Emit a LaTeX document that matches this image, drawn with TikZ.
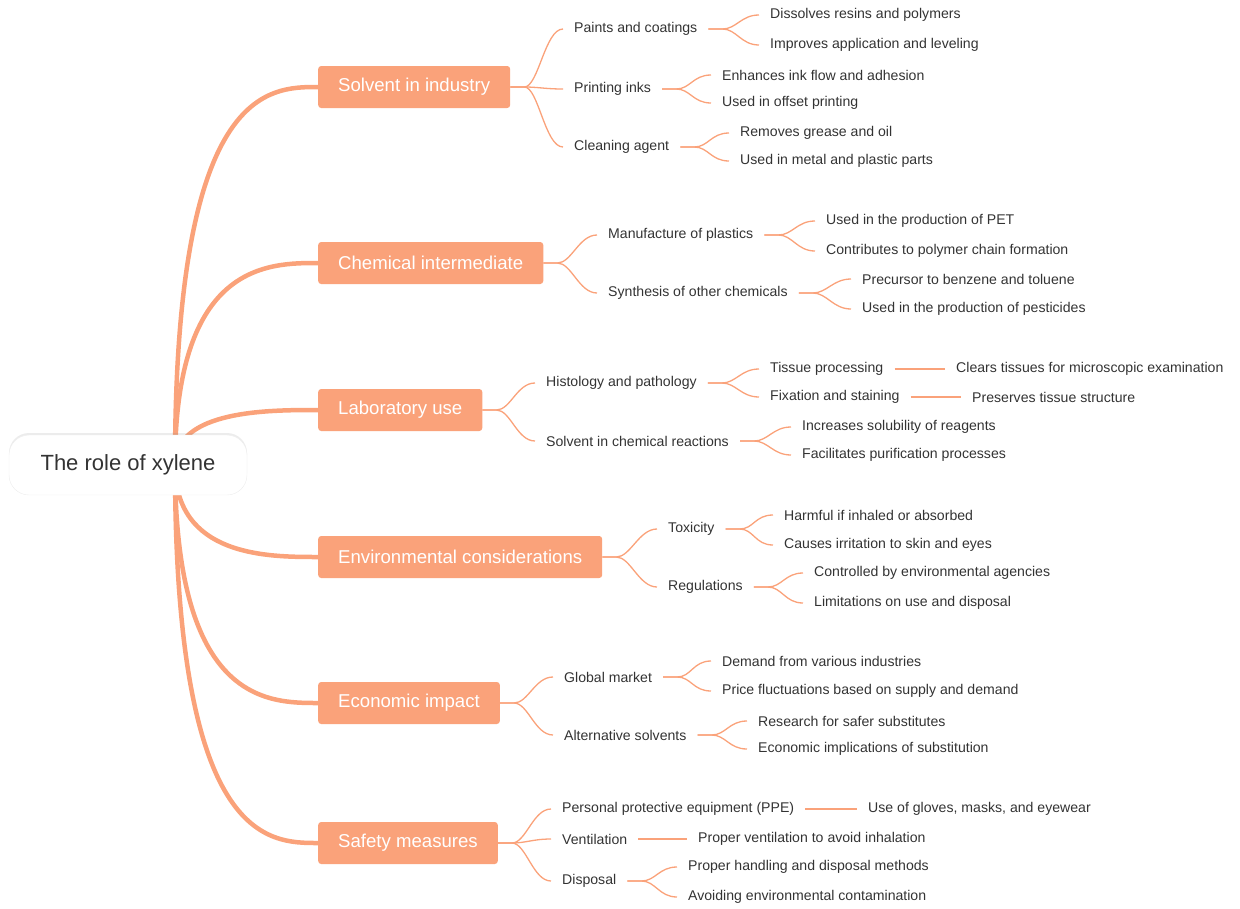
\documentclass[tikz,border=0pt]{standalone}
\usepackage{fontspec}
\setmainfont{Liberation Sans}
\usetikzlibrary{shadows}
\definecolor{org}{RGB}{250,162,122}
\definecolor{txt}{RGB}{51,51,51}
\begin{document}
\begin{tikzpicture}[x=1pt,y=-1pt,
 root/.style={draw=white!93!black,fill=white,rounded corners=20,minimum width=238,minimum height=60,font=\fontsize{22}{24}\selectfont,text=txt,drop shadow={opacity=0.15,shadow xshift=0,shadow yshift=-2}},
 main/.style={fill=org,rounded corners=3,text=white,minimum height=42,inner xsep=20,font=\fontsize{18.6}{21}\selectfont,anchor=west},
 sub/.style={text=txt,inner xsep=11,inner ysep=2,font=\fontsize{14.1}{16}\selectfont,anchor=west,yshift=-2},
 thick link/.style={draw=org,line width=4.5,line cap=round},
 link/.style={draw=org,line width=1.3}]
\useasboundingbox (0,0) rectangle (1240,908);
\coordinate (rs) at (175,465);
% main nodes
\node[main] (m1) at (318,87) {Solvent in industry};
\node[main] (m2) at (318,263) {Chemical intermediate};
\node[main] (m3) at (318,410) {Laboratory use};
\node[main] (m4) at (318,557) {Environmental considerations};
\node[main] (m5) at (318,703) {Economic impact};
\node[main] (m6) at (318,843) {Safety measures};
\foreach \m in {m1,m2,m3,m4,m5,m6}
 \draw[thick link] (rs) .. controls (rs|-\m.west) and ([xshift=-50]\m.west) .. (\m.west);
\node[root] (r) at (128,465) {The role of xylene};
% children
\newcommand\fork[2]{\draw[link] (#1.east) -- ++(14,0) .. controls +(14,0) and +(-18,0) .. (#2.west);}
\newcommand\straight[2]{\draw[link] (#1.east) -- (#2.west);}
\node[sub] (a1) at (563,27) {Paints and coatings};
\node[sub] (a2) at (563,87) {Printing inks};
\node[sub] (a3) at (563,145) {Cleaning agent};
\node[sub] (a11) at (759,13) {Dissolves resins and polymers};
\node[sub] (a12) at (759,43) {Improves application and leveling};
\node[sub] (a21) at (711,73) {Enhances ink flow and adhesion};
\node[sub] (a22) at (711,101) {Used in offset printing};
\node[sub] (a31) at (729,131) {Removes grease and oil};
\node[sub] (a32) at (729,159) {Used in metal and plastic parts};
\node[sub] (b1) at (597,233) {Manufacture of plastics};
\node[sub] (b2) at (597,291) {Synthesis of other chemicals};
\node[sub] (b11) at (815,219) {Used in the production of PET};
\node[sub] (b12) at (815,249) {Contributes to polymer chain formation};
\node[sub] (b21) at (851,277) {Precursor to benzene and toluene};
\node[sub] (b22) at (851,307) {Used in the production of pesticides};
\node[sub] (c1) at (535,381) {Histology and pathology};
\node[sub] (c2) at (535,439) {Solvent in chemical reactions};
\node[sub] (c11) at (759,367) {Tissue processing};
\node[sub] (c12) at (759,395) {Fixation and staining};
\node[sub] (c111) at (945,367) {Clears tissues for microscopic examination};
\node[sub] (c121) at (961,395) {Preserves tissue structure};
\node[sub] (c21) at (791,425) {Increases solubility of reagents};
\node[sub] (c22) at (791,453) {Facilitates purification processes};
\node[sub] (d1) at (657,527) {Toxicity};
\node[sub] (d2) at (657,585) {Regulations};
\node[sub] (d11) at (773,513) {Harmful if inhaled or absorbed};
\node[sub] (d12) at (773,543) {Causes irritation to skin and eyes};
\node[sub] (d21) at (803,571) {Controlled by environmental agencies};
\node[sub] (d22) at (803,601) {Limitations on use and disposal};
\node[sub] (e1) at (553,675) {Global market};
\node[sub] (e2) at (553,733) {Alternative solvents};
\node[sub] (e11) at (711,659) {Demand from various industries};
\node[sub] (e12) at (711,689) {Price fluctuations based on supply and demand};
\node[sub] (e21) at (747,719) {Research for safer substitutes};
\node[sub] (e22) at (747,747) {Economic implications of substitution};
\node[sub] (f1) at (551,807) {Personal protective equipment (PPE)};
\node[sub] (f2) at (551,837) {Ventilation};
\node[sub] (f3) at (551,879) {Disposal};
\node[sub] (f11) at (857,807) {Use of gloves, masks, and eyewear};
\node[sub] (f21) at (687,837) {Proper ventilation to avoid inhalation};
\node[sub] (f31) at (677,865) {Proper handling and disposal methods};
\node[sub] (f32) at (677,895) {Avoiding environmental contamination};
\fork{m1}{a1}\fork{m1}{a2}\fork{m1}{a3}
\fork{a1}{a11}\fork{a1}{a12}\fork{a2}{a21}\fork{a2}{a22}\fork{a3}{a31}\fork{a3}{a32}
\fork{m2}{b1}\fork{m2}{b2}
\fork{b1}{b11}\fork{b1}{b12}\fork{b2}{b21}\fork{b2}{b22}
\fork{m3}{c1}\fork{m3}{c2}
\fork{c1}{c11}\fork{c1}{c12}\straight{c11}{c111}\straight{c12}{c121}
\fork{c2}{c21}\fork{c2}{c22}
\fork{m4}{d1}\fork{m4}{d2}
\fork{d1}{d11}\fork{d1}{d12}\fork{d2}{d21}\fork{d2}{d22}
\fork{m5}{e1}\fork{m5}{e2}
\fork{e1}{e11}\fork{e1}{e12}\fork{e2}{e21}\fork{e2}{e22}
\fork{m6}{f1}\fork{m6}{f2}\fork{m6}{f3}
\straight{f1}{f11}\straight{f2}{f21}
\fork{f3}{f31}\fork{f3}{f32}
\end{tikzpicture}
\end{document}
